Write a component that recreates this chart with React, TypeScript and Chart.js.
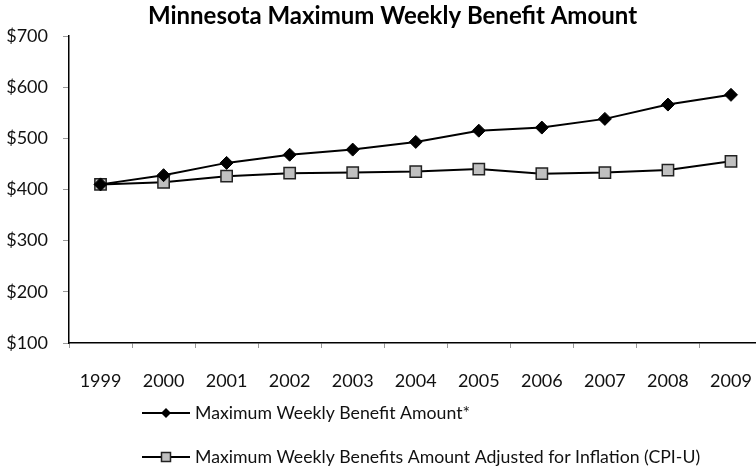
import React, { useEffect, useRef } from "react";
import { Chart, registerables } from "chart.js";

Chart.register(...registerables);

const years = ["1999", "2000", "2001", "2002", "2003", "2004", "2005", "2006", "2007", "2008", "2009"];
const maxBenefit = [410, 428, 452, 468, 478, 493, 515, 521, 538, 566, 585];
const adjustedBenefit = [410, 414, 426, 432, 433, 435, 440, 431, 433, 438, 455];
const seriesLabels = [
  "Maximum Weekly Benefit Amount*",
  "Maximum Weekly Benefits Amount Adjusted for Inflation (CPI-U)",
];
const titleText = "Minnesota Maximum Weekly Benefit Amount";

const FONT = "Lato, 'Open Sans', sans-serif";

const decorPlugin = {
  id: "titleAndLegend",
  afterDraw(chart: any) {
    const ctx = chart.ctx;
    // title
    ctx.save();
    ctx.fillStyle = "#000";
    ctx.font = `bold 24px ${FONT}`;
    ctx.textAlign = "center";
    ctx.textBaseline = "middle";
    ctx.fillText(titleText, 392.5, 16.5);
    ctx.restore();

    const x0 = 142;
    const x1 = 190;
    const ys = [413, 457];
    chart.data.datasets.forEach((ds: any, i: number) => {
      const y = ys[i];
      ctx.save();
      ctx.strokeStyle = "#000";
      ctx.lineWidth = 2;
      ctx.beginPath();
      ctx.moveTo(x0, y);
      ctx.lineTo(x1, y);
      ctx.stroke();
      const cx = (x0 + x1) / 2;
      if (ds.pointStyle === "rectRot") {
        const r = 5;
        ctx.fillStyle = "#000";
        ctx.beginPath();
        ctx.moveTo(cx, y - r);
        ctx.lineTo(cx + r, y);
        ctx.lineTo(cx, y + r);
        ctx.lineTo(cx - r, y);
        ctx.closePath();
        ctx.fill();
      } else {
        const h = 4.5;
        ctx.fillStyle = "#c0c0c0";
        ctx.lineWidth = 1.5;
        ctx.strokeStyle = "#222";
        ctx.fillRect(cx - h, y - h, 2 * h, 2 * h);
        ctx.strokeRect(cx - h, y - h, 2 * h, 2 * h);
      }
      ctx.fillStyle = "#111";
      ctx.font = `17.7px ${FONT}`;
      ctx.textAlign = "left";
      ctx.textBaseline = "middle";
      ctx.fillText(ds.label, x1 + 5, y);
      ctx.restore();
    });
  },
};

export default function App() {
  const ref = useRef<HTMLCanvasElement | null>(null);
  useEffect(() => {
    if (!ref.current) return;
    const chart = new Chart(ref.current, {
      type: "line",
      data: {
        labels: years,
        datasets: [
          {
            label: seriesLabels[0],
            data: maxBenefit,
            borderColor: "#000",
            borderWidth: 2,
            pointStyle: "rectRot",
            pointRadius: 6.5,
            pointBackgroundColor: "#000",
            pointBorderColor: "#000",
            pointBorderWidth: 1,
            tension: 0,
          },
          {
            label: seriesLabels[1],
            data: adjustedBenefit,
            borderColor: "#000",
            borderWidth: 2,
            pointStyle: "rect",
            pointRadius: 8,
            pointBackgroundColor: "#c0c0c0",
            pointBorderColor: "#222",
            pointBorderWidth: 1.5,
            tension: 0,
          },
        ],
      },
      options: {
        responsive: false,
        animation: false,
        layout: { padding: { left: 0, right: 21.5, top: 36, bottom: 0 } },
        plugins: {
          legend: { display: false },
          tooltip: { enabled: false },
          title: { display: false },
        },
        scales: {
          x: {
            type: "category",
            offset: true,
            grid: {
              offset: true,
              drawOnChartArea: false,
              drawTicks: true,
              tickLength: 5,
              tickColor: "#999",
            },
            border: { display: true, color: "#000", width: 1.5 },
            ticks: {
              color: "#111",
              font: { family: FONT, size: 18 },
              padding: 22,
              maxRotation: 0,
              autoSkip: false,
            },
            afterFit(scale: any) {
              scale.height = 130;
            },
          },
          y: {
            min: 100,
            max: 700,
            grid: {
              drawOnChartArea: false,
              drawTicks: true,
              tickLength: 6,
              tickColor: "#999",
            },
            border: { display: true, color: "#000", width: 1.5 },
            ticks: {
              stepSize: 100,
              color: "#111",
              font: { family: FONT, size: 18 },
              padding: 15,
              callback: (v: any) => "$" + v,
            },
            afterFit(scale: any) {
              scale.width = 69;
            },
          },
        },
      },
      plugins: [decorPlugin],
    });
    return () => chart.destroy();
  }, []);

  return (
    <div
      style={{
        position: "fixed",
        left: 0,
        top: 0,
        width: 756,
        height: 473,
        overflow: "hidden",
        background: "#fff",
      }}
    >
      <canvas ref={ref} width={784} height={473} style={{ width: 784, height: 473, display: "block" }} />
    </div>
  );
}
